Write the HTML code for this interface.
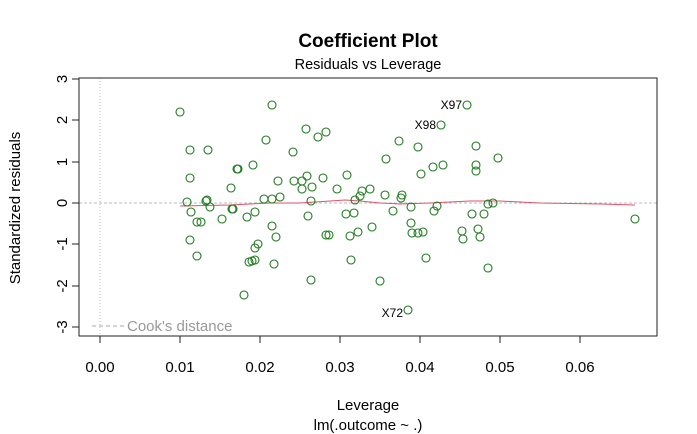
<!DOCTYPE html>
<html><head><meta charset="utf-8"><style>
html,body{margin:0;padding:0;background:#fff;}
svg{display:block;font-family:"Liberation Sans",sans-serif;}
</style></head><body>
<svg width="697" height="434" viewBox="0 0 697 434" xmlns="http://www.w3.org/2000/svg">
<rect width="697" height="434" fill="#fff"/>
<text x="368" y="47" font-size="19" font-weight="bold" text-anchor="middle">Coefficient Plot</text>
<text x="368" y="69" font-size="14.5" text-anchor="middle">Residuals vs Leverage</text>
<line x1="100" y1="78" x2="100" y2="336" stroke="#bbb" stroke-dasharray="1,2"/>
<line x1="79" y1="203" x2="657" y2="203" stroke="#bbb" stroke-dasharray="3,2"/>
<rect x="79" y="78" width="578" height="258" fill="none" stroke="#222" stroke-width="1"/>
<g stroke="#222">
<line x1="100" y1="336" x2="100" y2="343"/><line x1="180" y1="336" x2="180" y2="343"/><line x1="260" y1="336" x2="260" y2="343"/><line x1="340" y1="336" x2="340" y2="343"/><line x1="420" y1="336" x2="420" y2="343"/><line x1="500" y1="336" x2="500" y2="343"/><line x1="580" y1="336" x2="580" y2="343"/>
<line x1="72" y1="79" x2="79" y2="79"/><line x1="72" y1="120" x2="79" y2="120"/><line x1="72" y1="162" x2="79" y2="162"/><line x1="72" y1="203" x2="79" y2="203"/><line x1="72" y1="244" x2="79" y2="244"/><line x1="72" y1="286" x2="79" y2="286"/><line x1="72" y1="327" x2="79" y2="327"/>
</g>
<g font-size="15" text-anchor="middle">
<text x="100" y="372">0.00</text><text x="180" y="372">0.01</text><text x="260" y="372">0.02</text><text x="340" y="372">0.03</text><text x="420" y="372">0.04</text><text x="500" y="372">0.05</text><text x="580" y="372">0.06</text>
</g>
<g font-size="15" text-anchor="middle">
<text transform="translate(62,79) rotate(-90)" dy="5">3</text>
<text transform="translate(62,120) rotate(-90)" dy="5">2</text>
<text transform="translate(62,162) rotate(-90)" dy="5">1</text>
<text transform="translate(62,203) rotate(-90)" dy="5">0</text>
<text transform="translate(62,244) rotate(-90)" dy="5">-1</text>
<text transform="translate(62,286) rotate(-90)" dy="5">-2</text>
<text transform="translate(62,327) rotate(-90)" dy="5">-3</text>
</g>
<text transform="translate(20,208) rotate(-90)" font-size="15" text-anchor="middle">Standardized residuals</text>
<text x="368" y="410" font-size="15" text-anchor="middle">Leverage</text>
<text x="368" y="430" font-size="15" text-anchor="middle">lm(.outcome ~ .)</text>
<line x1="92" y1="326" x2="124" y2="326" stroke="#aaa" stroke-dasharray="4,3"/>
<text x="127" y="331" font-size="15" fill="#999">Cook's distance</text>
<path d="M180,206 L230,205 L270,203 L300,203 L330,201 L345,200 L360,201 L380,203 L400,204 L430,203 L470,201 L500,201 L540,203 L600,204 L635,205" fill="none" stroke="#df536b" stroke-width="1"/>
<g fill="none" stroke="#1e7b1e" stroke-width="1.1">
<circle cx="180" cy="112" r="4"/><circle cx="190" cy="150" r="4"/><circle cx="208" cy="150" r="4"/><circle cx="237" cy="169" r="4"/><circle cx="190" cy="178" r="4"/><circle cx="231" cy="188" r="4"/><circle cx="187" cy="202" r="4"/><circle cx="206" cy="201" r="4"/><circle cx="207" cy="200" r="4"/><circle cx="210" cy="207" r="4"/><circle cx="191" cy="212" r="4"/><circle cx="233" cy="209" r="4"/><circle cx="222" cy="219" r="4"/><circle cx="197" cy="222" r="4"/><circle cx="201" cy="222" r="4"/><circle cx="190" cy="240" r="4"/><circle cx="197" cy="256" r="4"/>
<circle cx="272" cy="105" r="4"/><circle cx="306" cy="129" r="4"/><circle cx="318" cy="137" r="4"/><circle cx="326" cy="132" r="4"/><circle cx="266" cy="140" r="4"/><circle cx="293" cy="152" r="4"/><circle cx="399" cy="141" r="4"/><circle cx="386" cy="159" r="4"/><circle cx="238" cy="169" r="4"/><circle cx="253" cy="165" r="4"/><circle cx="278" cy="181" r="4"/><circle cx="294" cy="181" r="4"/><circle cx="302" cy="181" r="4"/><circle cx="307" cy="176" r="4"/><circle cx="323" cy="178" r="4"/><circle cx="347" cy="175" r="4"/><circle cx="302" cy="189" r="4"/><circle cx="312" cy="187" r="4"/><circle cx="337" cy="189" r="4"/><circle cx="370" cy="189" r="4"/><circle cx="362" cy="191" r="4"/><circle cx="360" cy="196" r="4"/><circle cx="355" cy="200" r="4"/><circle cx="385" cy="195" r="4"/><circle cx="402" cy="195" r="4"/><circle cx="401" cy="198" r="4"/><circle cx="264" cy="199" r="4"/><circle cx="272" cy="199" r="4"/><circle cx="280" cy="197" r="4"/><circle cx="311" cy="201" r="4"/><circle cx="232" cy="209" r="4"/><circle cx="247" cy="217" r="4"/><circle cx="255" cy="212" r="4"/><circle cx="308" cy="216" r="4"/><circle cx="346" cy="214" r="4"/><circle cx="354" cy="213" r="4"/><circle cx="393" cy="211" r="4"/><circle cx="272" cy="226" r="4"/><circle cx="276" cy="237" r="4"/><circle cx="326" cy="235" r="4"/><circle cx="329" cy="235" r="4"/><circle cx="350" cy="236" r="4"/><circle cx="358" cy="232" r="4"/><circle cx="372" cy="227" r="4"/><circle cx="258" cy="244" r="4"/><circle cx="255" cy="248" r="4"/><circle cx="249" cy="262" r="4"/><circle cx="252" cy="261" r="4"/><circle cx="255" cy="260" r="4"/><circle cx="274" cy="264" r="4"/><circle cx="351" cy="260" r="4"/><circle cx="311" cy="280" r="4"/><circle cx="380" cy="281" r="4"/><circle cx="244" cy="295" r="4"/><circle cx="408" cy="310" r="4"/>
<circle cx="467" cy="105" r="4"/><circle cx="441" cy="125" r="4"/><circle cx="418" cy="147" r="4"/><circle cx="476" cy="146" r="4"/><circle cx="433" cy="167" r="4"/><circle cx="443" cy="165" r="4"/><circle cx="421" cy="174" r="4"/><circle cx="498" cy="158" r="4"/><circle cx="476" cy="165" r="4"/><circle cx="476" cy="171" r="4"/><circle cx="411" cy="207" r="4"/><circle cx="434" cy="211" r="4"/><circle cx="437" cy="206" r="4"/><circle cx="488" cy="204" r="4"/><circle cx="493" cy="203" r="4"/><circle cx="472" cy="214" r="4"/><circle cx="484" cy="214" r="4"/><circle cx="411" cy="223" r="4"/><circle cx="412" cy="233" r="4"/><circle cx="418" cy="233" r="4"/><circle cx="423" cy="232" r="4"/><circle cx="462" cy="231" r="4"/><circle cx="463" cy="239" r="4"/><circle cx="478" cy="229" r="4"/><circle cx="480" cy="237" r="4"/><circle cx="426" cy="258" r="4"/><circle cx="488" cy="268" r="4"/><circle cx="635" cy="219" r="4"/>
</g>
<g font-size="12" text-anchor="end">
<text x="462" y="109">X97</text><text x="436" y="129">X98</text><text x="403" y="317">X72</text>
</g>
</svg>
</body></html>
